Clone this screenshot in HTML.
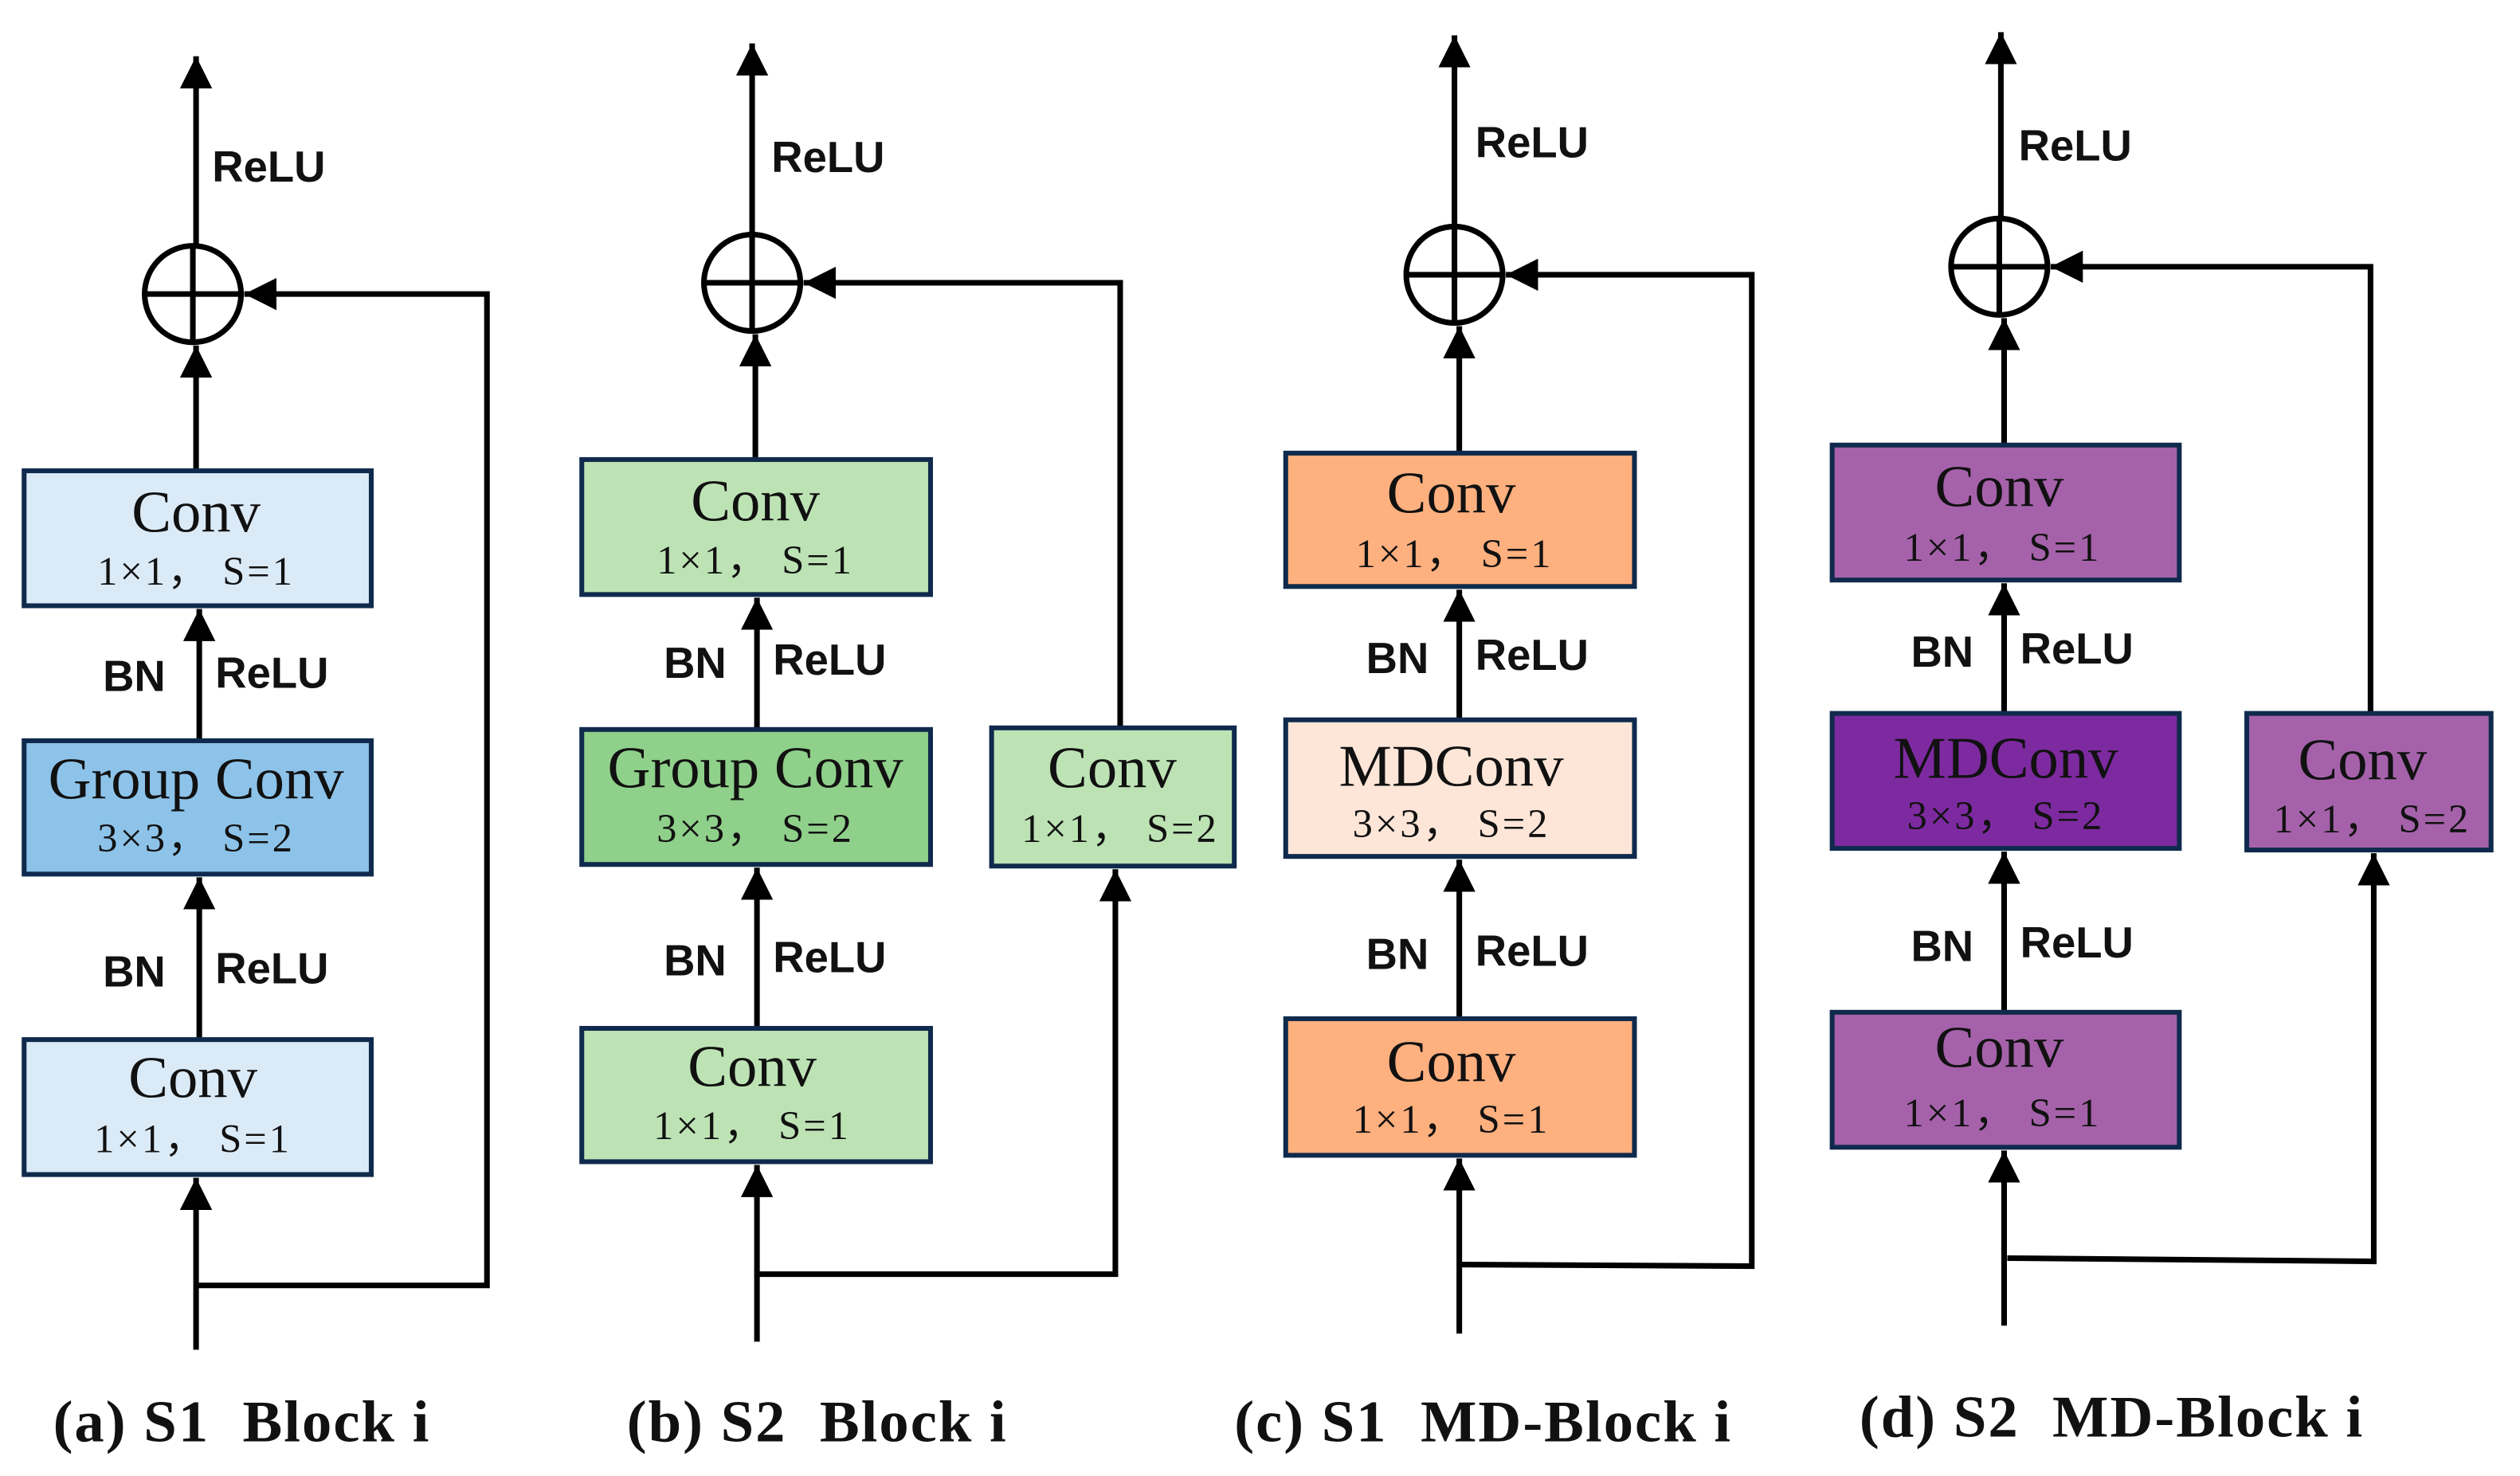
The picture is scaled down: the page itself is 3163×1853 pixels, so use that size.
<!DOCTYPE html>
<html><head><meta charset="utf-8"><style>
html,body{margin:0;padding:0;background:#fff}
svg{display:block}
.l{stroke:#000;stroke-width:3.5;fill:none}
.b{stroke:#0f2a4c;stroke-width:3}
.t{font-family:"Liberation Serif",serif;text-anchor:middle;fill:#111}
.u{letter-spacing:1.5px}
.s{font-family:"Liberation Sans",sans-serif;font-weight:bold;font-size:27px;fill:#111}
.cap{font-family:"Liberation Serif",serif;font-weight:bold;font-size:37px;letter-spacing:1px;fill:#111;white-space:pre}
</style></head><body>
<svg width="3163" height="1853" viewBox="0 0 1568 918.6" preserveAspectRatio="none" xmlns="http://www.w3.org/2000/svg">
<defs><marker id="a" markerUnits="userSpaceOnUse" markerWidth="24" markerHeight="24" refX="20" refY="10" orient="auto"><path d="M0,0 L20,10 L0,20 z" fill="#000"/></marker></defs>

<!-- Panel a -->
<g>
<line class="l" x1="122" y1="153" x2="122" y2="35" marker-end="url(#a)"/>
<text class="s" x="132" y="113">ReLU</text>
<circle cx="120" cy="183" r="30" class="l" stroke-width="4"/>
<line class="l" x1="90" y1="183" x2="150" y2="183"/><line class="l" x1="120" y1="153" x2="120" y2="213"/>
<polyline class="l" points="122,800 303,800 303,183 152,183" marker-end="url(#a)"/>
<line class="l" x1="122" y1="293" x2="122" y2="215" marker-end="url(#a)"/>
<line class="l" x1="124" y1="461" x2="124" y2="379" marker-end="url(#a)"/>
<line class="l" x1="124" y1="647" x2="124" y2="546" marker-end="url(#a)"/>
<line class="l" x1="122" y1="840" x2="122" y2="733" marker-end="url(#a)"/>
<text class="s" x="64" y="430">BN</text><text class="s" x="134" y="428">ReLU</text>
<text class="s" x="64" y="614">BN</text><text class="s" x="134" y="612">ReLU</text>
<rect class="b" x="15" y="293" width="216" height="84" fill="#dbeaf7"/>
<text class="t" x="122" y="331" font-size="37">Conv</text><text class="t u" x="122" y="364" font-size="25">1×1，&#160;S=1</text>
<rect class="b" x="15" y="461" width="216" height="83" fill="#8dc3e9"/>
<text class="t" x="122" y="497" font-size="37">Group Conv</text><text class="t u" x="122" y="530" font-size="25">3×3，&#160;S=2</text>
<rect class="b" x="15" y="647" width="216" height="84" fill="#dbeaf7"/>
<text class="t" x="120" y="683" font-size="37">Conv</text><text class="t u" x="120" y="717" font-size="25">1×1，&#160;S=1</text>
<text class="cap" x="33" y="897">(a) S1&#160;&#160;Block i</text>
</g>

<!-- Panel b -->
<g>
<line class="l" x1="468" y1="146" x2="468" y2="27" marker-end="url(#a)"/>
<text class="s" x="480" y="107">ReLU</text>
<circle cx="468" cy="176" r="30" class="l" stroke-width="4"/>
<line class="l" x1="438" y1="176" x2="498" y2="176"/><line class="l" x1="468" y1="146" x2="468" y2="206"/>
<polyline class="l" points="697,453 697,176 500,176" marker-end="url(#a)"/>
<polyline class="l" points="471,793 694,793 694,541" marker-end="url(#a)"/>
<line class="l" x1="470" y1="286" x2="470" y2="208" marker-end="url(#a)"/>
<line class="l" x1="471" y1="454" x2="471" y2="372" marker-end="url(#a)"/>
<line class="l" x1="471" y1="640" x2="471" y2="540" marker-end="url(#a)"/>
<line class="l" x1="471" y1="835" x2="471" y2="725" marker-end="url(#a)"/>
<text class="s" x="413" y="422">BN</text><text class="s" x="481" y="420">ReLU</text>
<text class="s" x="413" y="607">BN</text><text class="s" x="481" y="605">ReLU</text>
<rect class="b" x="362" y="286" width="217" height="84" fill="#bde3b5"/>
<text class="t" x="470" y="324" font-size="37">Conv</text><text class="t u" x="470" y="357" font-size="25">1×1，&#160;S=1</text>
<rect class="b" x="362" y="454" width="217" height="84" fill="#8fd08a"/>
<text class="t" x="470" y="490" font-size="37">Group Conv</text><text class="t u" x="470" y="524" font-size="25">3×3，&#160;S=2</text>
<rect class="b" x="362" y="640" width="217" height="83" fill="#bde3b5"/>
<text class="t" x="468" y="676" font-size="37">Conv</text><text class="t u" x="468" y="709" font-size="25">1×1，&#160;S=1</text>
<rect class="b" x="617" y="453" width="151" height="86" fill="#bde3b5"/>
<text class="t" x="692" y="490" font-size="37">Conv</text><text class="t u" x="697" y="524" font-size="25">1×1，&#160;S=2</text>
<text class="cap" x="390" y="897">(b) S2&#160;&#160;Block i</text>
</g>

<!-- Panel c -->
<g>
<line class="l" x1="905" y1="141" x2="905" y2="22" marker-end="url(#a)"/>
<text class="s" x="918" y="98">ReLU</text>
<circle cx="905" cy="171" r="30" class="l" stroke-width="4"/>
<line class="l" x1="875" y1="171" x2="935" y2="171"/><line class="l" x1="905" y1="141" x2="905" y2="201"/>
<polyline class="l" points="909,787 1090,788 1090,171 937,171" marker-end="url(#a)"/>
<line class="l" x1="908" y1="282" x2="908" y2="203" marker-end="url(#a)"/>
<line class="l" x1="908" y1="448" x2="908" y2="367" marker-end="url(#a)"/>
<line class="l" x1="908" y1="634" x2="908" y2="535" marker-end="url(#a)"/>
<line class="l" x1="908" y1="830" x2="908" y2="721" marker-end="url(#a)"/>
<text class="s" x="850" y="419">BN</text><text class="s" x="918" y="417">ReLU</text>
<text class="s" x="850" y="603">BN</text><text class="s" x="918" y="601">ReLU</text>
<rect class="b" x="800" y="282" width="217" height="83" fill="#ffb07f"/>
<text class="t" x="903" y="319" font-size="37">Conv</text><text class="t u" x="905" y="353" font-size="25">1×1，&#160;S=1</text>
<rect class="b" x="800" y="448" width="217" height="85" fill="#fde6d8"/>
<text class="t" x="903" y="489" font-size="37">MDConv</text><text class="t u" x="903" y="521" font-size="25">3×3，&#160;S=2</text>
<rect class="b" x="800" y="634" width="217" height="85" fill="#ffb07f"/>
<text class="t" x="903" y="673" font-size="37">Conv</text><text class="t u" x="903" y="705" font-size="25">1×1，&#160;S=1</text>
<text class="cap" x="768" y="897">(c) S1&#160;&#160;MD-Block i</text>
</g>

<!-- Panel d -->
<g>
<line class="l" x1="1245" y1="136" x2="1245" y2="20" marker-end="url(#a)"/>
<text class="s" x="1256" y="100">ReLU</text>
<circle cx="1244" cy="166" r="30" class="l" stroke-width="4"/>
<line class="l" x1="1214" y1="166" x2="1274" y2="166"/><line class="l" x1="1244" y1="136" x2="1244" y2="196"/>
<polyline class="l" points="1475,444 1475,166 1276,166" marker-end="url(#a)"/>
<polyline class="l" points="1249,783 1477,785 1477,531" marker-end="url(#a)"/>
<line class="l" x1="1247" y1="277" x2="1247" y2="198" marker-end="url(#a)"/>
<line class="l" x1="1247" y1="444" x2="1247" y2="363" marker-end="url(#a)"/>
<line class="l" x1="1247" y1="630" x2="1247" y2="530" marker-end="url(#a)"/>
<line class="l" x1="1247" y1="825" x2="1247" y2="716" marker-end="url(#a)"/>
<text class="s" x="1189" y="415">BN</text><text class="s" x="1257" y="413">ReLU</text>
<text class="s" x="1189" y="598">BN</text><text class="s" x="1257" y="596">ReLU</text>
<rect class="b" x="1140" y="277" width="216" height="84" fill="#a562aa"/>
<text class="t" x="1244" y="315" font-size="37">Conv</text><text class="t u" x="1246" y="349" font-size="25">1×1，&#160;S=1</text>
<rect class="b" x="1140" y="444" width="216" height="84" fill="#7d2aa0"/>
<text class="t" x="1248" y="484" font-size="37">MDConv</text><text class="t u" x="1248" y="516" font-size="25">3×3，&#160;S=2</text>
<rect class="b" x="1140" y="630" width="216" height="84" fill="#a562aa"/>
<text class="t" x="1244" y="664" font-size="37">Conv</text><text class="t u" x="1246" y="701" font-size="25">1×1，&#160;S=1</text>
<rect class="b" x="1398" y="444" width="152" height="85" fill="#a562aa"/>
<text class="t" x="1470" y="485" font-size="37">Conv</text><text class="t u" x="1476" y="518" font-size="25">1×1，&#160;S=2</text>
<text class="cap" x="1157" y="894">(d) S2&#160;&#160;MD-Block i</text>
</g>
</svg>
</body></html>
